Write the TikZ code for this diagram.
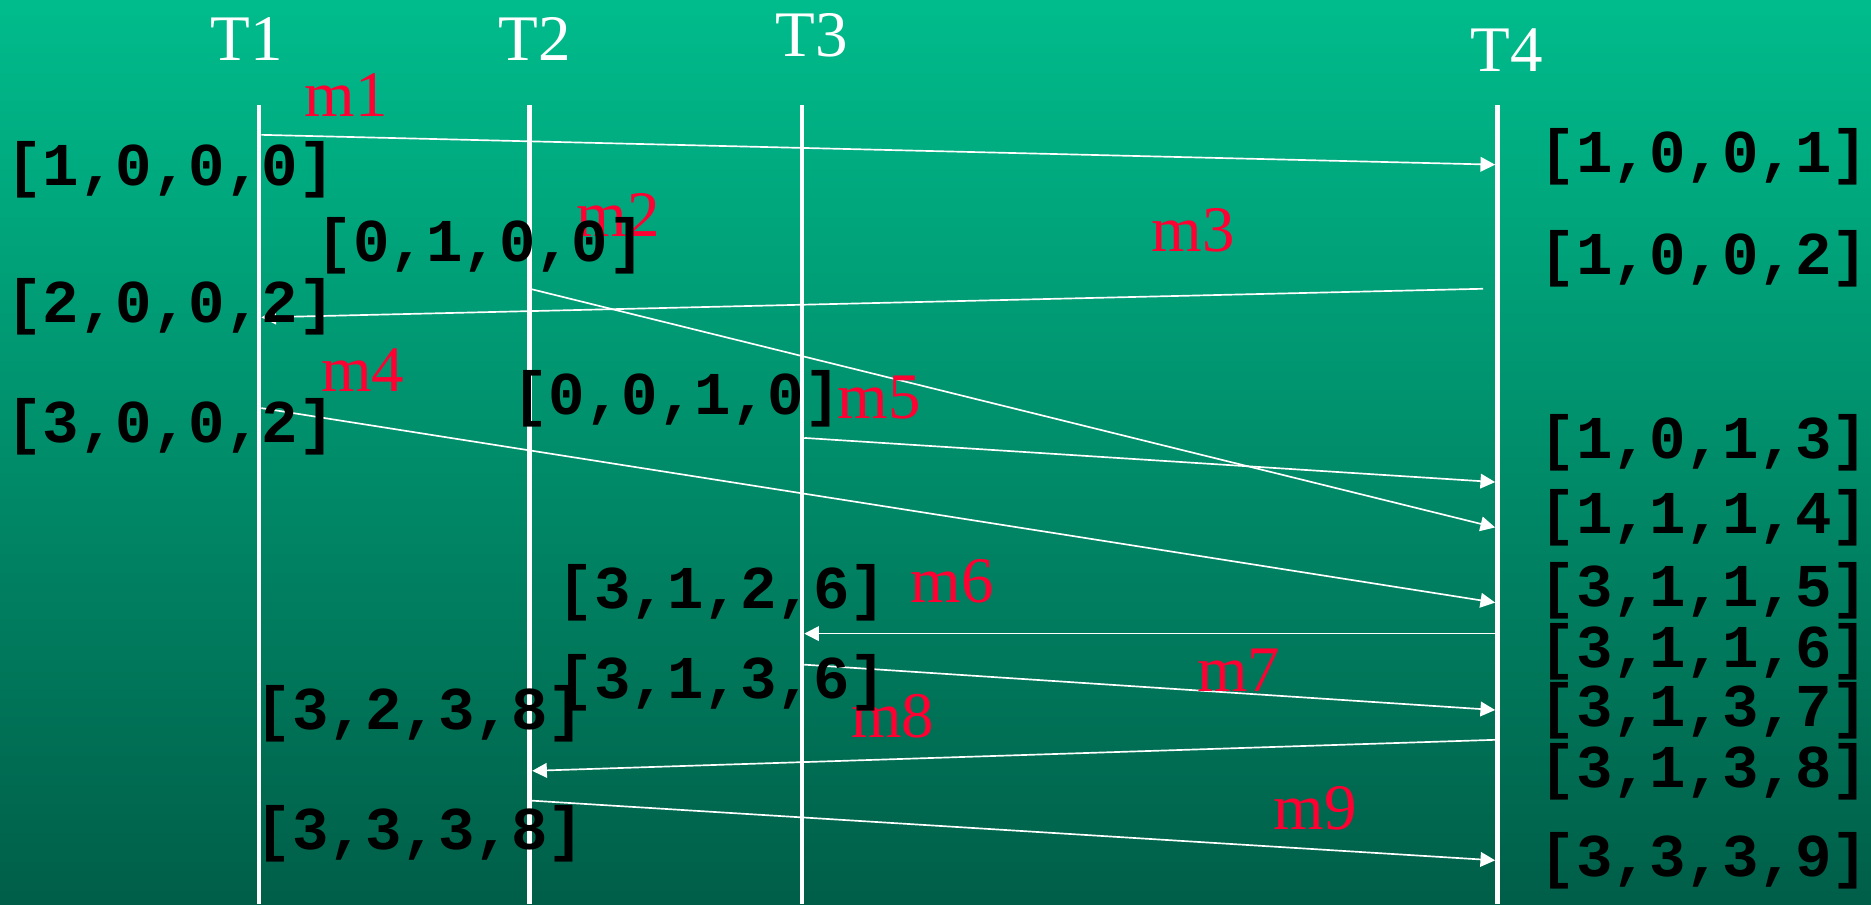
\documentclass[tikz,border=0pt]{standalone}
\usepackage{fontspec}
\setmainfont{Liberation Serif}
\newfontfamily\vecfont{Liberation Mono}
\usetikzlibrary{arrows.meta}
\definecolor{bgtop}{HTML}{00BC8C}
\definecolor{bgbottom}{HTML}{005E48}
\definecolor{msgred}{HTML}{FF0033}

\begin{document}
\begin{tikzpicture}[
    x=0.02cm, y=-0.02cm,
    timeline/.style={draw=white, line width=2.2pt},
    msg/.style={draw=white, line width=0.8pt, -{Triangle[length=7pt, width=7pt]}},
    tlabel/.style={font=\fontsize{31}{31}\selectfont, text=white, inner sep=0pt},
    mlabel/.style={font=\fontsize{31}{31}\selectfont, text=msgred, inner sep=0pt},
    clock/.style={font=\vecfont\bfseries\fontsize{29}{29}\selectfont, inner sep=0pt, anchor=west},
]
% Background
\fill[top color=bgtop, bottom color=bgbottom] (0,0) rectangle (1568,758);
\useasboundingbox (0,0) rectangle (1568,758);

% Process timelines
\node[tlabel] (T1) at (207,33) {T1};
\node[tlabel] (T2) at (448,33) {T2};
\node[tlabel] (T3) at (680,30) {T3};
\node[tlabel] (T4) at (1263,42) {T4};
\foreach \x in {217, 444, 672, 1255}
  \draw[timeline] (\x,88) -- (\x,758);

% Send and receive events
\coordinate (s1) at (219,113);  \coordinate (r1) at (1253,138);
\coordinate (s2) at (444,242);  \coordinate (r2) at (1253,442);
\coordinate (s3) at (1243,242); \coordinate (r3) at (219,266);
\coordinate (s4) at (219,342);  \coordinate (r4) at (1253,505);
\coordinate (s5) at (674,367);  \coordinate (r5) at (1253,404);
\coordinate (s6) at (1253,531); \coordinate (r6) at (674,531);
\coordinate (s7) at (674,557);  \coordinate (r7) at (1253,595);
\coordinate (s8) at (1253,620); \coordinate (r8) at (446,646);
\coordinate (s9) at (446,671);  \coordinate (r9) at (1253,721);
\foreach \m in {1,...,9}
  \draw[msg] (s\m) -- (r\m);

% Message names
\node[mlabel] (m1) at (290,80)   {m1};
\node[mlabel] (m2) at (518,180)  {m2};
\node[mlabel] (m3) at (1000,193) {m3};
\node[mlabel] (m4) at (304,310)  {m4};
\node[mlabel] (m5) at (737,333)  {m5};
\node[mlabel] (m6) at (798,487)  {m6};
\node[mlabel] (m7) at (1038,562) {m7};
\node[mlabel] (m8) at (748,600)  {m8};
\node[mlabel] (m9) at (1102,677) {m9};

% Vector clocks, T1
\node[clock] (c11) at (5,142) {[1,0,0,0]};
\node[clock] (c12) at (5,257) {[2,0,0,2]};
\node[clock] (c13) at (5,358) {[3,0,0,2]};
% T2
\node[clock] (c21) at (265,206) {[0,1,0,0]};
\node[clock] (c22) at (214,598) {[3,2,3,8]};
\node[clock] (c23) at (214,699) {[3,3,3,8]};
% T3
\node[clock] (c31) at (429,334) {[0,0,1,0]};
\node[clock] (c32) at (467,497) {[3,1,2,6]};
\node[clock] (c33) at (467,572) {[3,1,3,6]};
% T4
\foreach \n/\y/\v in {1/131/{[1,0,0,1]}, 2/217/{[1,0,0,2]}, 3/371/{[1,0,1,3]},
                      4/434/{[1,1,1,4]}, 5/495/{[3,1,1,5]}, 6/546/{[3,1,1,6]},
                      7/596/{[3,1,3,7]}, 8/647/{[3,1,3,8]}, 9/721/{[3,3,3,9]}}
  \node[clock] (c4\n) at (1290,\y) {\v};

\end{tikzpicture}
\end{document}
